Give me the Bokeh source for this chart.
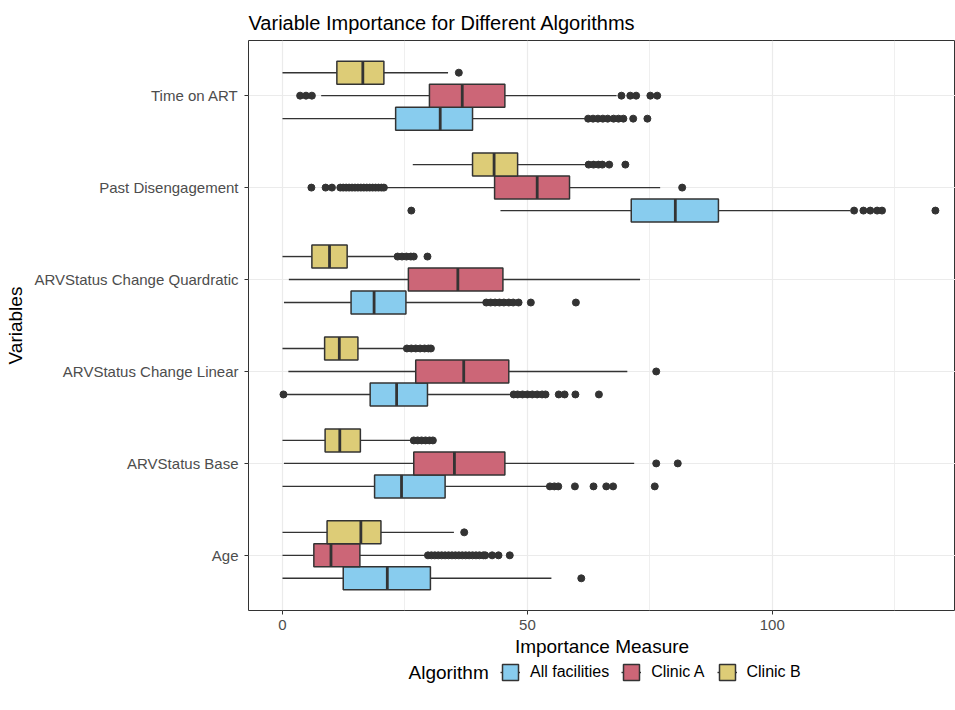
import numpy as np
from bokeh.plotting import figure
from bokeh.layouts import column
from bokeh.models import ColumnDataSource, FixedTicker, Range1d, Legend, LegendItem, Label
from bokeh.embed import file_html
from bokeh.resources import INLINE

# ---------------- data ----------------
variables = ["Time on ART", "Past Disengagement", "ARVStatus Change Quardratic",
             "ARVStatus Change Linear", "ARVStatus Base", "Age"]   # top to bottom
algorithms = ["All facilities", "Clinic A", "Clinic B"]
colors = ["#88CCEE", "#CC6677", "#DDCC77"]

all_lo  = [0.0, 44.5, 0.3, 0.7, 0.0, 0.0]
all_q1  = [23.1, 71.2, 14.0, 17.9, 18.8, 12.4]
all_med = [32.2, 80.2, 18.7, 23.3, 24.3, 21.4]
all_q3  = [38.8, 89.0, 25.2, 29.6, 33.2, 30.2]
all_hi  = [62.1, 115.9, 41.4, 46.7, 54.2, 54.9]
all_out = [
    [62.4, 63.4, 64.4, 65.4, 66.4, 67.6, 68.6, 69.6, 71.6, 74.5],
    [26.3, 116.7, 118.6, 120.0, 121.4, 122.4, 133.3],
    [41.6, 42.5, 43.4, 44.3, 45.2, 46.2, 47.1, 48.2, 50.7, 59.9],
    [0.2, 47.2, 48.0, 49.0, 50.0, 51.0, 52.0, 53.0, 53.7, 56.4, 57.6, 59.8, 64.6],
    [54.6, 55.5, 56.3, 59.7, 63.5, 66.1, 67.5, 76.0],
    [61.0],
]

a_lo  = [7.9, 21.0, 1.3, 1.2, 0.3, 0.0]
a_q1  = [30.0, 43.3, 25.7, 27.2, 26.8, 6.4]
a_med = [36.7, 52.0, 35.8, 37.0, 35.1, 9.9]
a_q3  = [45.4, 58.6, 45.0, 46.2, 45.4, 15.8]
a_hi  = [68.2, 77.1, 73.0, 70.4, 71.8, 29.4]
a_out = [
    [3.6, 4.8, 6.0, 69.2, 71.0, 72.2, 75.1, 76.5],
    [5.9, 8.8, 10.1, 11.8, 12.4, 13.0, 13.6, 14.2, 14.8, 15.4, 16.0, 16.6, 17.2,
     17.8, 18.4, 19.0, 19.6, 20.2, 20.7, 81.6],
    [],
    [76.3],
    [76.3, 80.7],
    [29.7, 30.4, 31.1, 31.8, 32.5, 33.2, 33.9, 34.6, 35.3, 36.0, 36.7, 37.4, 38.1,
     38.8, 39.5, 40.2, 41.0, 41.4, 42.8, 44.1, 46.4],
]

b_lo  = [0.0, 26.6, 0.0, 0.0, 0.0, 0.0]
b_q1  = [11.1, 38.8, 6.0, 8.6, 8.7, 9.1]
b_med = [16.4, 43.2, 9.6, 11.6, 11.7, 16.0]
b_q3  = [20.7, 48.0, 13.2, 15.4, 15.9, 20.1]
b_hi  = [33.8, 62.1, 23.0, 24.9, 26.3, 35.0]
b_out = [
    [36.0],
    [62.5, 63.5, 64.5, 65.3, 66.7, 70.0],
    [23.5, 24.4, 25.3, 26.2, 26.8, 29.6],
    [25.4, 26.3, 27.2, 28.1, 29.0, 29.8, 30.3],
    [26.8, 27.6, 28.4, 29.2, 30.0, 30.7],
    [37.1],
]

x_ticks = [0, 50, 100]
x_minor = [25, 75, 125]

stats = {
    "All facilities": (all_lo, all_q1, all_med, all_q3, all_hi, all_out),
    "Clinic A": (a_lo, a_q1, a_med, a_q3, a_hi, a_out),
    "Clinic B": (b_lo, b_q1, b_med, b_q3, b_hi, b_out),
}

# ---------------- main figure ----------------
FONT = "Liberation Sans"
DARK = "#333333"
n = len(variables)
box_w = 0.25
offsets = {"All facilities": -box_w, "Clinic A": 0.0, "Clinic B": box_w}

p = figure(width=955, height=661, output_backend="svg", toolbar_location=None,
           x_range=Range1d(-6.94, 137.4), y_range=Range1d(0.4, n + 0.6),
           min_border_left=248, min_border_right=0, min_border_top=40,
           min_border_bottom=51)
p.background_fill_color = "white"
p.border_fill_color = "white"
p.outline_line_color = DARK
p.outline_line_width = 1

p.title.text = "Variable Importance for Different Algorithms"
p.title.text_font = FONT
p.title.text_font_size = "20px"
p.title.text_font_style = "normal"
p.title.text_color = "#000000"
p.title.align = "left"
p.title.offset = 0
p.title.standoff = 13

# axes
p.xaxis.ticker = FixedTicker(ticks=x_ticks, minor_ticks=x_minor)
p.yaxis.ticker = FixedTicker(ticks=list(range(1, n + 1)))
p.yaxis.major_label_overrides = {n - i: v for i, v in enumerate(variables)}
for ax in (p.xaxis[0], p.yaxis[0]):
    ax.axis_line_color = None
    ax.major_tick_line_color = DARK
    ax.major_tick_out = 4
    ax.major_tick_in = 0
    ax.minor_tick_line_color = None
    ax.major_label_text_font = FONT
    ax.major_label_text_font_size = "15px"
    ax.major_label_text_color = "#4D4D4D"
    ax.axis_label_text_font = FONT
    ax.axis_label_text_font_size = "19px"
    ax.axis_label_text_font_style = "normal"
    ax.axis_label_text_color = "#000000"
p.xaxis.axis_label = "Importance Measure"
p.yaxis.axis_label = "Variables"
p.xaxis.major_label_standoff = 5
p.xaxis.axis_label_standoff = 3
p.yaxis.major_label_standoff = 6
p.yaxis.axis_label_standoff = 5

p.xgrid.ticker = FixedTicker(ticks=x_ticks, minor_ticks=x_minor)
p.xgrid.grid_line_color = "#EBEBEB"
p.xgrid.grid_line_width = 1.2
p.xgrid.minor_grid_line_color = "#EBEBEB"
p.xgrid.minor_grid_line_width = 0.8
p.ygrid.ticker = FixedTicker(ticks=list(range(1, n + 1)))
p.ygrid.grid_line_color = "#EBEBEB"
p.ygrid.grid_line_width = 1.2

# ---------------- legend strip (below the plot) ----------------
leg = figure(width=955, height=41, output_backend="svg", toolbar_location=None,
             x_range=Range1d(0, 1), y_range=Range1d(0, 1),
             x_axis_type=None, y_axis_type=None,
             min_border=0, min_border_left=0, min_border_right=0,
             min_border_top=0, min_border_bottom=0)
leg.outline_line_color = None
leg.background_fill_color = "white"
leg.border_fill_color = "white"

# ---------------- boxplots ----------------
items = []
for alg, col in zip(algorithms, colors):
    lo, q1, med, q3, hi, out = stats[alg]
    y = np.array([n - i for i in range(n)], dtype=float) + offsets[alg]
    src = ColumnDataSource(dict(y=y, lo=lo, q1=q1, med=med, q3=q3, hi=hi,
                                ylo=y - box_w / 2, yhi=y + box_w / 2))
    p.segment(x0="lo", x1="q1", y0="y", y1="y", source=src,
              line_color=DARK, line_width=1.4)
    p.segment(x0="q3", x1="hi", y0="y", y1="y", source=src,
              line_color=DARK, line_width=1.4)
    p.hbar(y="y", left="q1", right="q3", height=box_w, source=src,
           fill_color=col, line_color=DARK, line_width=1.5)
    p.segment(x0="med", x1="med", y0="ylo", y1="yhi", source=src,
              line_color=DARK, line_width=2.8)
    ox, oy = [], []
    for i, vals in enumerate(out):
        ox.extend(vals)
        oy.extend([y[i]] * len(vals))
    p.scatter(x=ox, y=oy, size=7, fill_color=DARK, line_color=DARK)

    # hidden copies (same data) that only supply the legend keys
    whisk = leg.segment(x0="lo", x1="hi", y0="y", y1="y", source=src,
                        line_color=DARK, line_width=1.4, visible=False)
    box = leg.hbar(y="y", left="q1", right="q3", height=box_w, source=src,
                   fill_color=col, line_color=DARK, line_width=1.5, visible=False)
    items.append(LegendItem(label=alg, renderers=[whisk, box]))

legend = Legend(items=items, orientation="horizontal", location=(252, 20),
                border_line_alpha=0, background_fill_alpha=0,
                label_text_font=FONT, label_text_font_size="16px",
                label_text_color="#000000",
                glyph_width=20, glyph_height=20, label_standoff=10, spacing=12,
                padding=0, margin=0, click_policy="none")
leg.add_layout(legend, "center")
leg.add_layout(Label(x=160, y=30, x_units="screen", y_units="screen",
                     text="Algorithm", text_font=FONT, text_font_size="19px",
                     text_baseline="middle", text_align="left", text_color="#000000"))

layout = column(p, leg, spacing=0)
open("out.html", "w").write(file_html(layout, INLINE))
